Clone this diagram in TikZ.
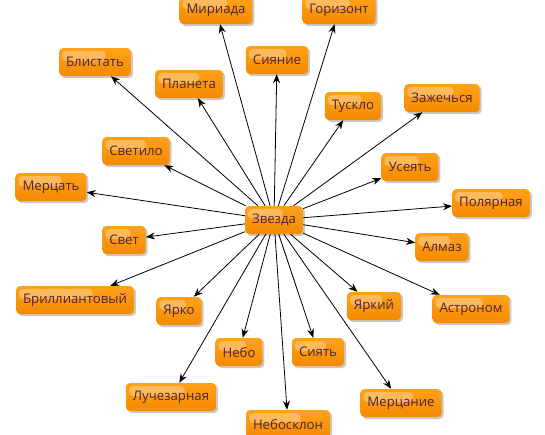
\documentclass[tikz,border=0pt]{standalone}
\usepackage{fontspec}
\setmainfont{Open Sans}
\usetikzlibrary{shadows,arrows.meta,calc}
\definecolor{boxtop}{HTML}{FFA21A}
\definecolor{boxbot}{HTML}{F58A00}
\definecolor{txt}{HTML}{4A2340}
\tikzset{
  word/.style={rounded corners=4pt, top color=boxtop, bottom color=boxbot, draw=none,
    minimum height=28pt, inner xsep=7pt, inner ysep=0pt, text=txt,
    font=\fontsize{13.2}{15}\selectfont,
    drop shadow={shadow xshift=2pt, shadow yshift=-2pt, opacity=0.35, fill=black!60},
    path picture={\fill[white,opacity=0.3,rounded corners=4pt]
      ([xshift=3pt,yshift=-3pt]path picture bounding box.north west) rectangle
      ($(path picture bounding box.west)!0.65!(path picture bounding box.east)+(0,1pt)$);}},
  arr/.style={draw=black, line width=0.8pt, -{Stealth[length=9pt,width=7pt]}}
}
\begin{document}
\begin{tikzpicture}[x=1pt,y=-1pt]
\useasboundingbox (0,0) rectangle (545,434);
\clip (0,0) rectangle (545,434);
\fill[white] (0,0) rectangle (545,434);
\node[word] (z) at (274,220) {Звезда};
\node[word] (n1) at (216,10) {Мириада};
\node[word] (n2) at (339,10) {Горизонт};
\node[word] (n3) at (95,62) {Блистать};
\node[word] (n4) at (277,60) {Сияние};
\node[word] (n5) at (189,84) {Планета};
\node[word] (n6) at (353,106) {Тускло};
\node[word] (n7) at (442,98) {Зажечься};
\node[word] (n8) at (136,151) {Светило};
\node[word] (n9) at (410,167) {Усеять};
\node[word] (n10) at (51,187) {Мерцать};
\node[word] (n11) at (491,203) {Полярная};
\node[word] (n12) at (124,240) {Свет};
\node[word] (n13) at (442,247) {Алмаз};
\node[word] (n14) at (75,300) {Бриллиантовый};
\node[word] (n15) at (179,311) {Ярко};
\node[word] (n16) at (374,306) {Яркий};
\node[word] (n17) at (471,309) {Астроном};
\node[word] (n18) at (239,352) {Небо};
\node[word] (n19) at (318,352) {Сиять};
\node[word] (n20) at (171,397) {Лучезарная};
\node[word] (n21) at (401,403) {Мерцание};
\node[word] (n22) at (288,424) {Небосклон};
\foreach \i in {1,...,22} {\draw[arr] (z) -- (n\i);}
\end{tikzpicture}
\end{document}
